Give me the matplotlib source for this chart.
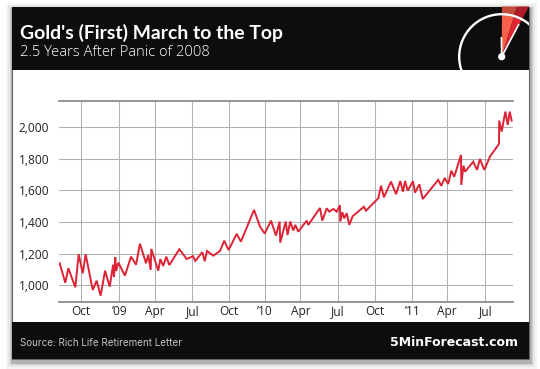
import matplotlib
matplotlib.use('Agg')
import matplotlib.pyplot as plt
from matplotlib.patches import Rectangle, Polygon, Circle

# months since Jul 2008, price
months = [1.17, 1.63, 1.88, 2.45, 2.73, 3.06, 3.30, 3.88, 4.20, 4.53, 4.89, 5.27, 5.55, 5.62, 5.73, 5.80, 5.98,
          6.52, 7.02, 7.43, 7.75, 8.25, 8.43, 8.63, 8.68, 9.25, 9.42, 9.66, 9.91, 10.16, 10.98, 11.58, 12.10,
          12.29, 12.86, 13.06, 13.25, 13.76, 14.31, 14.66, 15.02, 15.68, 16.03, 17.10, 17.59, 17.98, 18.49,
          18.90, 19.20, 19.25, 19.70, 19.85, 20.07, 20.32, 20.48, 20.73, 21.42, 21.55, 22.51, 22.70, 23.06,
          23.27, 23.60, 23.88, 24.15, 24.17, 24.34, 24.50, 24.70, 24.91, 25.19, 26.11, 26.28, 27.29, 27.51,
          27.75, 28.33, 28.74, 29.09, 29.31, 29.48, 29.70, 30.13, 30.30, 30.65, 30.93, 32.20, 32.45, 32.73,
          33.02, 33.27, 33.51, 34.07, 34.09, 34.27, 34.40, 35.07, 35.38, 35.62, 35.98, 36.44, 37.18, 37.20,
          37.40, 37.70, 37.90, 38.06, 38.22]
price = [1139, 1016, 1108, 987, 1196, 1076, 1196, 970, 1029, 934, 1092, 991, 1130, 1054, 1177, 1090, 1143,
         1061, 1181, 1130, 1263, 1139, 1192, 1097, 1230, 1092, 1165, 1122, 1181, 1128, 1228, 1166, 1184,
         1154, 1209, 1152, 1217, 1187, 1217, 1282, 1223, 1325, 1276, 1477, 1371, 1327, 1409,
         1314, 1403, 1270, 1403, 1318, 1403, 1346, 1382, 1339, 1409, 1382, 1489, 1409, 1487,
         1466, 1483, 1466, 1506, 1403, 1462, 1424, 1456, 1382, 1437, 1497, 1472, 1551, 1630,
         1557, 1656, 1576, 1660, 1592, 1660, 1599, 1658, 1586, 1639, 1546, 1667, 1629, 1679,
         1641, 1725, 1687, 1825, 1635, 1757, 1719, 1782, 1730, 1799, 1730, 1814, 1894, 2042,
         1972, 2099, 2015, 2099, 2042]

x_ticks = [2.94, 6.06, 9.0, 12.04, 15.07, 18.0, 20.9, 24.0, 27.04, 30.07, 32.94, 36.07]
x_labels = ['Oct', '\u201909', 'Apr', 'Jul', 'Oct', '\u201910', 'Apr', 'Jul', 'Oct', '\u201911', 'Apr', 'Jul']
y_ticks = [1000, 1200, 1400, 1600, 1800, 2000]
y_labels = ['1,000', '1,200', '1,400', '1,600', '1,800', '2,000']

W, H = 540, 369
fig = plt.figure(figsize=(W / 100, H / 100), dpi=100, facecolor='white')

# card, drawn in pixel coordinates
bg = fig.add_axes([0, 0, 1, 1])
bg.set_xlim(0, W)
bg.set_ylim(H, 0)
bg.axis('off')
for grow, alpha in [(7, 0.04), (5, 0.06), (3, 0.09), (1.5, 0.14)]:
    bg.add_patch(Rectangle((11.5 - grow + 1, 6.5 - grow + 3), 517.5 + 2 * grow, 352.5 + 2 * grow,
                           color='black', alpha=alpha, lw=0))
bg.add_patch(Rectangle((11.5, 6.5), 517.5, 352.5, fc='white', ec='#666666', lw=0.8))
bg.add_patch(Rectangle((11.5, 6.5), 517.5, 63.5, color='#0d0d0d', lw=0))
bg.add_patch(Rectangle((11.5, 322), 517.5, 37, color='#0d0d0d', lw=0))

# gauge in the header
header = Rectangle((11.5, 6.5), 517.5, 63.5, transform=bg.transData)
cx, cy = 501.7, 56.7
bg.add_patch(Polygon([(cx, cy), (502, 6.5), (517, 6.5)], color='#f9604a', lw=0))
bg.add_patch(Polygon([(cx, cy), (517, 6.5), (529, 6.5)], color='#de2530', lw=0))
bg.add_patch(Polygon([(502, 6.5), (529, 6.5), (521.7, 20), (502, 14.2)], color='black', alpha=0.22, lw=0))
arc = bg.add_patch(Circle((cx, cy), 42.5, fc='none', ec='white', lw=1.7))
arc.set_clip_path(header)
bg.plot([cx, cx - 0.3], [cy, 37], color='white', lw=1.2, solid_capstyle='butt')
bg.plot([cx, 519], [cy, 24], color='white', lw=1.2, solid_capstyle='butt')
bg.add_patch(Circle((cx, cy), 3.6, color='white', lw=0))

bg.text(20.5, 32.5, "Gold's (First) March to the Top", family='Lato', weight='bold', fontsize=13.95,
        color='white', va='center', ha='left')
bg.text(20.5, 52, '2.5 Years After Panic of 2008', family='Open Sans', weight='light', fontsize=10.6,
        color='white', va='center', ha='left')
bg.text(20, 343.5, 'Source: Rich Life Retirement Letter', family='Inter', fontsize=7.1,
        color='#c4c4c4', va='center', ha='left')
bg.text(518, 342, '5MinForecast.com', family='DejaVu Sans', weight='bold', fontsize=9,
        color='white', va='center', ha='right')

# chart area: 59-513 px across, 100.7-302 px down
ax = fig.add_axes([59 / W, 1 - 302 / H, (513 - 59) / W, (302 - 100.7) / H])
ax.patch.set_alpha(0)
ax.set_xlim(1.115, 38.33)
ax.set_ylim(894, 2168)
ax.plot(months, price, color='#dd2435', lw=1.4, solid_joinstyle='miter', zorder=3)
ax.set_xticks(x_ticks)
ax.set_xticklabels(x_labels, family='Open Sans', fontsize=8.6, color='#222222')
ax.set_yticks(y_ticks)
ax.set_yticklabels(y_labels, family='Open Sans', fontsize=8.6, color='#222222')
ax.tick_params(length=0, pad=7)
ax.tick_params(axis='x', pad=2)
ax.grid(True, color='#b0b0b0', lw=0.75)
ax.set_axisbelow(True)
for side in ['left', 'right']:
    ax.spines[side].set_visible(False)
for side in ['top', 'bottom']:
    ax.spines[side].set_color('#8c8c8c')
    ax.spines[side].set_linewidth(1.3)

fig.savefig('out.png', dpi=100)
